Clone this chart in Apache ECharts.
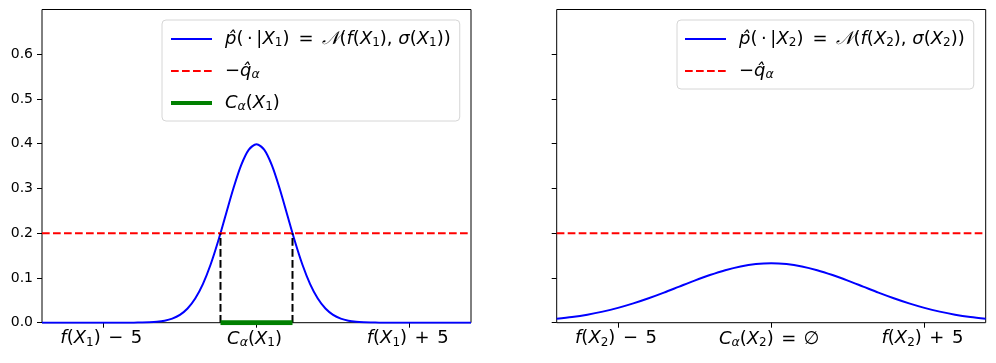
<!DOCTYPE html>
<html>
<head>
<meta charset="utf-8">
<script src="https://cdn.jsdelivr.net/npm/echarts@6/dist/echarts.min.js"></script>
<style>
  html, body { margin: 0; padding: 0; background: #fff; }
  #chart { width: 996px; height: 363px; }
</style>
</head>
<body>
<div id="chart"></div>
<script>
// x positions of the density samples (left panel, sigma small)
const xs1 = [-7, -6.75, -6.5, -6.25, -6, -5.75, -5.5, -5.25, -5, -4.75, -4.5, -4.25, -4, -3.75, -3.5, -3.25,
  -3, -2.75, -2.5, -2.25, -2, -1.75, -1.5, -1.25, -1, -0.75, -0.5, -0.25, 0, 0.25, 0.5, 0.75, 1, 1.25, 1.5,
  1.75, 2, 2.25, 2.5, 2.75, 3, 3.25, 3.5, 3.75, 4, 4.25, 4.5, 4.75, 5, 5.25, 5.5, 5.75, 6, 6.25, 6.5, 6.75, 7]
const dens1 = [0, 0, 0, 0, 0, 0, 0, 0, 0, 0, 0, 0, 0.0001, 0.0004, 0.0009, 0.0020,
  0.0044, 0.0091, 0.0175, 0.0317, 0.0540, 0.0863, 0.1295, 0.1826, 0.2420, 0.3011, 0.3521, 0.3867, 0.3989, 0.3867, 0.3521, 0.3011, 0.2420, 0.1826, 0.1295,
  0.0863, 0.0540, 0.0317, 0.0175, 0.0091, 0.0044, 0.0020, 0.0009, 0.0004, 0.0001, 0, 0, 0, 0, 0, 0, 0, 0, 0, 0, 0, 0]

// right panel, wide density
const xs2 = [-7, -6.5, -6, -5.5, -5, -4.5, -4, -3.5, -3, -2.5, -2, -1.5, -1, -0.5, 0,
  0.5, 1, 1.5, 2, 2.5, 3, 3.5, 4, 4.5, 5, 5.5, 6, 6.5, 7]
const dens2 = [0.0087, 0.0127, 0.0180, 0.0248, 0.0332, 0.0432, 0.0547, 0.0673, 0.0807, 0.0940, 0.1065, 0.1174, 0.1258, 0.1311, 0.1330,
  0.1311, 0.1258, 0.1174, 0.1065, 0.0940, 0.0807, 0.0673, 0.0547, 0.0432, 0.0332, 0.0248, 0.0180, 0.0127, 0.0087]

const xRange = [-7, 7]
const yRange = [0, 0.7]
const qhat = 0.2
const cutBounds = [-1.175, 1.175]

const xTicks = [-5, 0, 5]
const yTicks = [0, 0.1, 0.2, 0.3, 0.4, 0.5, 0.6]
const xLabels1 = ['{i|f}{n|(}{i|X}{s|1}{n|) \u200a−\u200a 5}', '{i|C}{a|α}{n|(}{i|X}{s|1}{n|)}', '{i|f}{n|(}{i|X}{s|1}{n|) \u200a+\u200a 5}']
const xLabels2 = ['{i|f}{n|(}{i|X}{s|2}{n|) \u200a−\u200a 5}', '{i|C}{a|α}{n|(}{i|X}{s|2}{n|) \u200a=\u200a ∅}', '{i|f}{n|(}{i|X}{s|2}{n|) \u200a+\u200a 5}']

const legendNames = {
  p1: '{i|p̂}{n|(\u2009·\u2009|}{i|X}{s|1}{n|)\u2002=\u2002}{c|𝒩}{n|(}{i|f}{n|(}{i|X}{s|1}{n|), }{i|σ}{n|(}{i|X}{s|1}{n|))}',
  q1: '{n|−}{i|q̂}{a|α}',
  c1: '{i|C}{a|α}{n|(}{i|X}{s|1}{n|)}',
  p2: '{i|p̂}{n|(\u2009·\u2009|}{i|X}{s|2}{n|)\u2002=\u2002}{c|𝒩}{n|(}{i|f}{n|(}{i|X}{s|2}{n|), }{i|σ}{n|(}{i|X}{s|2}{n|))}',
  q2: '{n|−}{i|q̂}{a|α}'
}

const font = 'DejaVu Sans'
const rich = {
  n: { fontFamily: font, fontSize: 18, color: '#000' },
  i: { fontFamily: font, fontSize: 18, fontStyle: 'italic', color: '#000' },
  c: { fontFamily: font, fontSize: 18, fontStyle: 'italic', color: '#000' },
  s: { fontFamily: font, fontSize: 12, color: '#000', padding: [8, 0, 0, 0] },
  a: { fontFamily: font, fontSize: 12.5, fontStyle: 'italic', color: '#000', padding: [8, 0, 0, 0] }
}

const zip = (xs, ys) => xs.map((x, k) => [x, ys[k]])
const dash = [7.7, 3.3]

function xAxisFor(idx, labels) {
  return {
    type: 'value', gridIndex: idx, min: xRange[0], max: xRange[1],
    axisLine: { show: false, onZero: false }, splitLine: { show: false },
    axisTick: { customValues: xTicks, length: 5, lineStyle: { color: '#000' } },
    axisLabel: {
      customValues: xTicks, margin: 6, padding: [0, 4, 0, 0],
      formatter: v => labels[xTicks.indexOf(v)],
      rich: rich
    }
  }
}
function yAxisFor(idx, showLabels) {
  return {
    type: 'value', gridIndex: idx, min: yRange[0], max: yRange[1],
    axisLine: { show: false, onZero: false }, splitLine: { show: false },
    axisTick: { customValues: yTicks, length: 5, lineStyle: { color: '#000' } },
    axisLabel: {
      show: showLabels, customValues: yTicks, margin: 9,
      formatter: v => v.toFixed(1),
      fontFamily: font, fontSize: 14, color: '#000'
    }
  }
}
function legendFor(left, names) {
  return {
    left: left, top: 20, orient: 'vertical',
    data: names.map(n => n === 'c1' ? { name: n, lineStyle: { width: 4 } } : n),
    itemWidth: 41, itemHeight: 14, itemGap: 8,
    itemStyle: { opacity: 0, color: 'rgba(0,0,0,0)', borderWidth: 0 },
    backgroundColor: '#fff', borderColor: '#d6d6d6', borderWidth: 1, borderRadius: 4,
    padding: [7, 9, 6, 7], selectedMode: false,
    formatter: n => legendNames[n],
    textStyle: { rich: rich, lineHeight: 24, padding: [0, 0, 0, 8] }
  }
}
const line = (name, idx, data, color, width, type) => ({
  name: name, type: 'line', xAxisIndex: idx, yAxisIndex: idx, data: data,
  symbol: 'none', showSymbol: false, silent: true,
  lineStyle: { color: color, width: width, type: type || 'solid' },
  itemStyle: { color: color }
})

const chart = echarts.init(document.getElementById('chart'))
chart.setOption({
  animation: false,
  backgroundColor: '#fff',
  grid: [
    { left: 42, top: 9.5, width: 429, height: 313.2, show: true, borderColor: '#000', borderWidth: 1 },
    { left: 556.7, top: 9.5, width: 429, height: 313.2, show: true, borderColor: '#000', borderWidth: 1 }
  ],
  xAxis: [xAxisFor(0, xLabels1), xAxisFor(1, xLabels2)],
  yAxis: [yAxisFor(0, true), yAxisFor(1, false)],
  legend: [legendFor(162, ['p1', 'q1', 'c1']), legendFor(677, ['p2', 'q2'])],
  series: [
    Object.assign(line('p1', 0, zip(xs1, dens1), '#0000ff', 2), { smooth: 0.3 }),
    line('q1', 0, zip(xRange, [qhat, qhat]), '#ff0000', 2, dash),
    line('cutL', 0, [[cutBounds[0], 0], [cutBounds[0], qhat]], '#000', 2, dash),
    line('cutR', 0, [[cutBounds[1], 0], [cutBounds[1], qhat]], '#000', 2, dash),
    line('c1', 0, zip(cutBounds, [0, 0]), '#008000', 5),
    Object.assign(line('p2', 1, zip(xs2, dens2), '#0000ff', 2), { smooth: 0.3 }),
    line('q2', 1, zip(xRange, [qhat, qhat]), '#ff0000', 2, dash)
  ]
})
</script>
</body>
</html>
